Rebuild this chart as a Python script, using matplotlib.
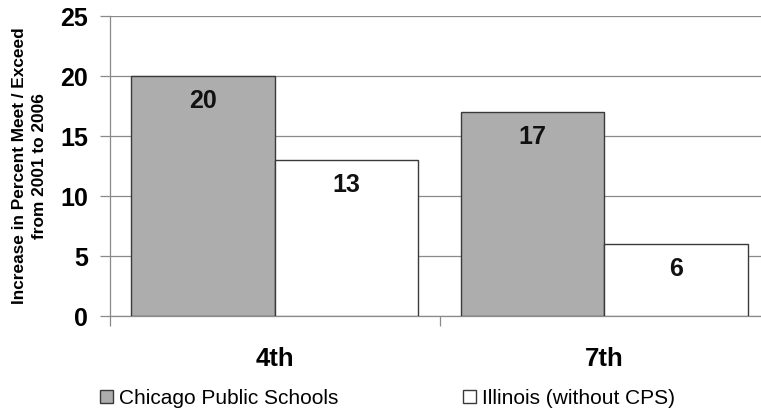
import matplotlib
matplotlib.use("Agg")
import matplotlib.pyplot as plt
from matplotlib.ticker import MultipleLocator, FixedLocator, NullFormatter

plt.rcParams['font.family'] = ['Liberation Sans', 'DejaVu Sans']

grades = ["4th", "7th"]
series_names = ["Chicago Public Schools", "Illinois (without CPS)"]
cps_values = [20, 17]
illinois_values = [13, 6]

fig = plt.figure(figsize=(7.61, 4.17), dpi=100)
ax = fig.add_axes([110 / 761, 101 / 417, 659 / 761, 300 / 417])

x = list(range(len(grades)))
bar_w = 0.435
offs = bar_w / 2

b1 = ax.bar([i - offs for i in x], cps_values, width=bar_w,
            color="#adadad", edgecolor="#3a3a3a", linewidth=1.0,
            label=series_names[0], zorder=3)
b2 = ax.bar([i + offs for i in x], illinois_values, width=bar_w,
            color="white", edgecolor="#3a3a3a", linewidth=1.0,
            label=series_names[1], zorder=3)

for bars, vals in ((b1, cps_values), (b2, illinois_values)):
    for rect, v in zip(bars, vals):
        ax.annotate(f"{v}", xy=(rect.get_x() + rect.get_width() / 2, v),
                    xytext=(0, -18), textcoords="offset points",
                    ha="center", va="center", fontsize=18,
                    fontweight="bold", color="#111111", zorder=4)

ax.set_xlim(-0.5, 1.5)
ax.set_ylim(0, 25)
ax.yaxis.set_major_locator(MultipleLocator(5))
ax.grid(axis="y", color="#8a8a8a", linewidth=0.9, zorder=0)
ax.set_axisbelow(True)

# category boundaries carry the ticks, centres carry the labels
ax.xaxis.set_major_locator(FixedLocator([-0.5, 0.5, 1.5]))
ax.xaxis.set_major_formatter(NullFormatter())
ax.xaxis.set_minor_locator(FixedLocator(x))
ax.set_xticklabels(grades, minor=True)
ax.tick_params(axis="x", which="major", length=7, color="#8a8a8a", width=0.9)
ax.tick_params(axis="x", which="minor", length=0, pad=22, labelsize=18.5)
for lbl in ax.get_xticklabels(minor=True):
    lbl.set_fontweight("bold")

ax.tick_params(axis="y", length=7, color="#8a8a8a", width=0.9,
               labelsize=18, pad=9)
for lbl in ax.get_yticklabels():
    lbl.set_fontweight("bold")

for side in ("top", "right"):
    ax.spines[side].set_visible(False)
ax.spines["left"].set_color("#8a8a8a")
ax.spines["left"].set_linewidth(0.9)
ax.spines["bottom"].set_color("#8a8a8a")
ax.spines["bottom"].set_linewidth(0.9)

ax.set_ylabel("Increase in Percent Meet / Exceed\nfrom 2001 to 2006",
              fontsize=12.4, fontweight="bold", linespacing=1.45)
ax.yaxis.set_label_coords(-0.095, 0.5)

fig.legend(handles=[b1, b2], loc="center left",
           bbox_to_anchor=(100 / 761, 1 - 398 / 417),
           ncol=2, frameon=False, fontsize=15,
           handlelength=0.6, handleheight=0.6, handletextpad=0.3,
           columnspacing=6.0, borderaxespad=0, borderpad=0)

fig.savefig("out.png", dpi=100)
